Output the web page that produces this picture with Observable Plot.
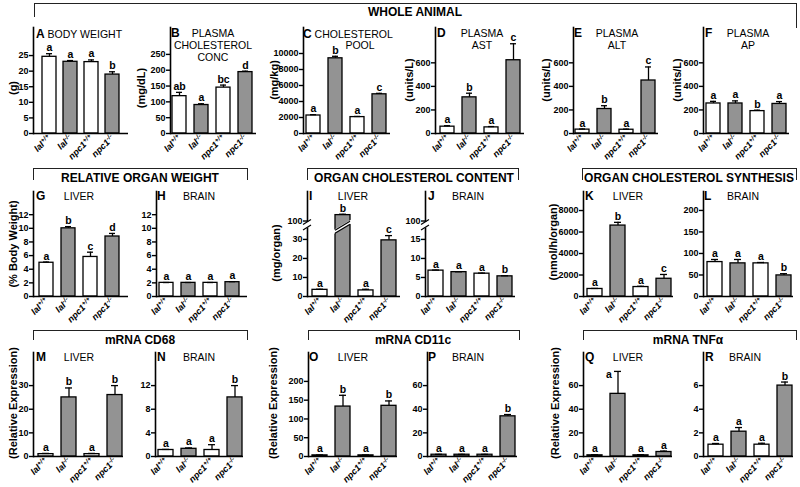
<!DOCTYPE html>
<html><head><meta charset="utf-8">
<script src="https://cdn.jsdelivr.net/npm/d3@7"></script>
<script src="https://cdn.jsdelivr.net/npm/@observablehq/plot@0.6"></script>
<style>
body{margin:0;background:#fff;}
#chart{position:relative;width:800px;height:487px;overflow:hidden;font-family:"Liberation Sans",Arial,sans-serif;background:#fff;color:#000;}
.t{position:absolute;white-space:nowrap;line-height:1;}
.brk{position:absolute;border:1.5px solid #222;border-bottom:none;box-sizing:border-box;}
.ylab{position:absolute;font-weight:bold;font-size:11px;line-height:1;white-space:nowrap;transform:translate(-50%,-50%) rotate(-90deg);}
</style></head>
<body><div id="chart"></div>
<script>
const genotypes = ["lal+/+", "lal-/-", "npc1+/+", "npc1-/-"];

// A–F whole animal
const bodyWeight = [24.6, 23.0, 22.9, 18.9];
const bodyWeightErr = [1.0, 0.4, 0.7, 0.9];
const bodyWeightSig = ["a", "a", "a", "b"];
const plasmaChol = [118, 90, 145, 194];
const plasmaCholErr = [12, 4, 8, 3];
const plasmaCholSig = ["ab", "a", "bc", "d"];
const cholPool = [2250, 9400, 2050, 4900];
const cholPoolErr = [100, 250, 80, 120];
const cholPoolSig = ["a", "b", "a", "c"];
const plasmaAST = [58, 307, 52, 622];
const plasmaASTErr = [8, 35, 7, 140];
const plasmaASTSig = ["a", "b", "a", "c"];
const plasmaALT = [33, 208, 32, 450];
const plasmaALTErr = [5, 28, 5, 115];
const plasmaALTSig = ["a", "b", "a", "c"];
const plasmaAP = [255, 255, 190, 251];
const plasmaAPErr = [18, 22, 8, 20];
const plasmaAPSig = ["a", "a", "b", "a"];

// G–L organs
const liverWeight = [4.95, 10.0, 5.8, 8.8];
const liverWeightErr = [0.1, 0.25, 0.7, 0.45];
const liverWeightSig = ["a", "b", "c", "d"];
const brainWeight = [2.0, 2.0, 2.0, 2.1];
const brainWeightErr = [0.05, 0.05, 0.05, 0.08];
const brainWeightSig = ["a", "a", "a", "a"];
const liverChol = [3.5, 120, 3.2, 29.5];
const liverCholErr = [0.3, 3, 0.6, 2.5];
const liverCholSig = ["a", "b", "a", "c"];
const brainChol = [6.8, 6.4, 6.0, 5.3];
const brainCholErr = [0.15, 0.1, 0.15, 0.15];
const brainCholSig = ["a", "a", "a", "b"];
const liverSynth = [700, 6600, 880, 1650];
const liverSynthErr = [50, 300, 70, 400];
const liverSynthSig = ["a", "b", "a", "c"];
const brainSynth = [80, 77, 77, 49];
const brainSynthErr = [6, 9, 2, 4];
const brainSynthSig = ["a", "a", "a", "b"];

// M–R mRNA
const cd68Liver = [1, 25, 1, 26];
const cd68LiverErr = [0.3, 4, 0.3, 4];
const cd68LiverSig = ["a", "b", "a", "b"];
const cd68Brain = [1.1, 1.3, 1.1, 10];
const cd68BrainErr = [0.1, 0.15, 0.9, 2];
const cd68BrainSig = ["a", "a", "a", "b"];
const cd11cLiver = [3, 133, 3, 135];
const cd11cLiverErr = [1, 30, 1, 13];
const cd11cLiverSig = ["a", "b", "a", "b"];
const cd11cBrain = [1.5, 1.5, 1.5, 34];
const cd11cBrainErr = [0.3, 0.3, 0.3, 1.5];
const cd11cBrainSig = ["a", "a", "a", "b"];
const tnfLiver = [1, 53, 1, 3.8];
const tnfLiverErr = [0.5, 19, 0.5, 0.8];
const tnfLiverSig = ["a", "a", "a", "a"];
const tnfBrain = [1.0, 2.1, 1.0, 6.0];
const tnfBrainErr = [0.1, 0.35, 0.12, 0.3];
const tnfBrainSig = ["a", "a", "a", "b"];

// tick labels
const ticksA = [0, 5, 10, 15, 20, 25];
const ticksB = [0, 50, 100, 150, 200, 250];
const ticksC = [0, 2000, 4000, 6000, 8000, 10000];
const ticksPlasma = [0, 200, 400, 600];
const ticksOrganW = [0, 2, 4, 6, 8, 10, 12];
const ticksI = [0, 10, 20, 30, 100];
const ticksJ = [0, 5, 10, 15, 100];
const ticksK = [0, 2000, 4000, 6000, 8000];
const ticksL = [0, 50, 100, 150, 200];
const ticksM = [0, 10, 20, 30];
const ticksN = [0, 4, 8, 12];
const ticksO = [0, 50, 100, 150, 200];
const ticksPQ = [0, 20, 40, 60];
const ticksR = [0, 2, 4, 6];

// layout
const rowTop = {top: 27, zero: 133}, rowMid = {top: 191, zero: 296}, rowBot = {top: 352, zero: 456};
const panels = [
  {v: bodyWeight, e: bodyWeightErr, s: bodyWeightSig, row: rowTop, ax: 33, b0: 40, b1: 120, xe: 128, ymax: 34, ticks: ticksA},
  {v: plasmaChol, e: plasmaCholErr, s: plasmaCholSig, row: rowTop, ax: 170, b0: 171, b1: 254, xe: 256, ymax: 335, ticks: ticksB},
  {v: cholPool, e: cholPoolErr, s: cholPoolSig, row: rowTop, ax: 303, b0: 305, b1: 388, xe: 390, ymax: 13250, ticks: ticksC},
  {v: plasmaAST, e: plasmaASTErr, s: plasmaASTSig, row: rowTop, ax: 435, b0: 439, b1: 522, xe: 524, ymax: 900, ticks: ticksPlasma},
  {v: plasmaALT, e: plasmaALTErr, s: plasmaALTSig, row: rowTop, ax: 573, b0: 574, b1: 656, xe: 658, ymax: 900, ticks: ticksPlasma},
  {v: plasmaAP, e: plasmaAPErr, s: plasmaAPSig, row: rowTop, ax: 703, b0: 705, b1: 787, xe: 789, ymax: 900, ticks: ticksPlasma},
  {v: liverWeight, e: liverWeightErr, s: liverWeightSig, row: rowMid, ax: 33, b0: 39, b1: 120, xe: 128, ymax: 15.4, ticks: ticksOrganW},
  {v: brainWeight, e: brainWeightErr, s: brainWeightSig, row: rowMid, ax: 156, b0: 158, b1: 241, xe: 247, ymax: 15.4, ticks: ticksOrganW},
  {v: liverChol, e: liverCholErr, s: liverCholSig, row: rowMid, ax: 307, b0: 310, b1: 397, xe: 400, brk: [36, 95, 200], ticks: ticksI},
  {v: brainChol, e: brainCholErr, s: brainCholSig, row: rowMid, ax: 425, b0: 427, b1: 513, xe: 515, brk: [18, 95, 200], ticks: ticksJ},
  {v: liverSynth, e: liverSynthErr, s: liverSynthSig, row: rowMid, ax: 583, b0: 586, b1: 671, xe: 673, ymax: 9770, ticks: ticksK},
  {v: brainSynth, e: brainSynthErr, s: brainSynthSig, row: rowMid, ax: 703, b0: 706, b1: 791, xe: 793, ymax: 244, ticks: ticksL},
  {v: cd68Liver, e: cd68LiverErr, s: cd68LiverSig, row: rowBot, ax: 33, b0: 37, b1: 122, xe: 123, ymax: 44, ticks: ticksM},
  {v: cd68Brain, e: cd68BrainErr, s: cd68BrainSig, row: rowBot, ax: 155, b0: 158, b1: 242, xe: 243, ymax: 17.6, ticks: ticksN},
  {v: cd11cLiver, e: cd11cLiverErr, s: cd11cLiverSig, row: rowBot, ax: 308, b0: 311, b1: 396, xe: 397, ymax: 277, ticks: ticksO},
  {v: cd11cBrain, e: cd11cBrainErr, s: cd11cBrainSig, row: rowBot, ax: 427, b0: 430, b1: 515, xe: 517, ymax: 88, ticks: ticksPQ},
  {v: tnfLiver, e: tnfLiverErr, s: tnfLiverSig, row: rowBot, ax: 583, b0: 586, b1: 671, xe: 672, ymax: 88, ticks: ticksPQ, sideSig: 1},
  {v: tnfBrain, e: tnfBrainErr, s: tnfBrainSig, row: rowBot, ax: 703, b0: 707, b1: 792, xe: 793, ymax: 8.8, ticks: ticksR}
];

const chart = document.getElementById("chart");
const gray = "#939393";
const FONT = "'Liberation Sans', Arial, sans-serif";

function drawPanel(p) {
  const ML = 34, MR = 3, MT = 8, MB = 44;
  const data = genotypes.map((g, i) => ({g, i, v: p.v[i], e: p.e[i], s: p.s[i]}));
  const svgLeft = p.ax - ML, svgTop = p.row.top - MT;
  const plotH = p.row.zero - p.row.top;
  const width = p.xe - p.ax + ML + MR;
  const height = MT + plotH + MB;
  const y = p.brk
    ? {type: "linear", domain: [0, p.brk[0], p.brk[1], p.brk[2]], range: [MT + plotH, MT + plotH - 68.5, MT + plotH - 74, MT]}
    : {domain: [0, p.ymax]};
  const top = d => d.v + d.e;
  const plot = Plot.plot({
    width, height, marginLeft: ML, marginRight: MR, marginTop: MT, marginBottom: MB,
    style: {fontFamily: FONT, fontSize: "9px", fontWeight: "bold", background: "transparent", overflow: "visible", color: "#000"},
    x: {type: "band", domain: genotypes, range: [p.b0 - svgLeft, p.b1 - svgLeft], paddingInner: 0.35, paddingOuter: 0, align: 0.5},
    y,
    marks: [
      Plot.barY(data, {x: "g", y: "v", fill: d => d.g.endsWith("+/+") ? "white" : gray, stroke: "black", strokeWidth: 1.3}),
      Plot.ruleX(data, {x: "g", y1: "v", y2: top, stroke: "black", strokeWidth: 1.3}),
      Plot.tickY(data, {x: "g", y: top, stroke: "black", strokeWidth: 1.3, insetLeft: 4, insetRight: 4}),
      Plot.text(data.filter(d => d.i !== p.sideSig), {x: "g", y: top, text: "s", dy: -2.5, lineAnchor: "bottom", fontSize: 10.5, fontWeight: "bold", fill: "black"}),
      Plot.text(data.filter(d => d.i === p.sideSig), {x: "g", y: top, text: "s", dx: -9, dy: 3, lineAnchor: "middle", fontSize: 10.5, fontWeight: "bold", fill: "black"}),
      Plot.ruleY([0], {stroke: "black", strokeWidth: 1.6}),
      Plot.frame({anchor: "left", stroke: "black", strokeWidth: 1.6}),
      Plot.axisY({ticks: p.ticks, tickFormat: d => String(d), tickSize: 4, tickPadding: 1, label: null, strokeWidth: 1.4}),
      Plot.axisX({tickSize: 0, tickRotate: -45, tickPadding: 3, label: null})
    ]
  });
  plot.style.position = "absolute";
  plot.style.left = svgLeft + "px";
  plot.style.top = svgTop + "px";
  plot.style.maxWidth = "none";
  // italic genotype labels with superscripts
  d3.select(plot).selectAll('g[aria-label="x-axis tick label"] text').each(function () {
    const t = this.textContent;
    const m = t.match(/^(lal|npc1)(.*)$/);
    if (!m) return;
    this.textContent = "";
    const sel = d3.select(this).attr("font-style", "italic");
    sel.append("tspan").text(m[1]);
    sel.append("tspan").attr("dy", "-3").attr("font-size", "6.5px").text(m[2]);
  });
  if (p.brk) {
    const ys = plot.scale("y"), xs = plot.scale("x");
    const yl = ys.apply(p.brk[0]), yh = ys.apply(p.brk[1]);
    const g = d3.select(plot).append("g");
    g.append("rect").attr("x", ML - 2).attr("y", yh).attr("width", 4).attr("height", yl - yh).attr("fill", "white");
    [yl, yh].forEach(yy => g.append("line").attr("x1", ML - 4).attr("x2", ML + 4)
      .attr("y1", yy + 2.5).attr("y2", yy - 2.5).attr("stroke", "black").attr("stroke-width", 1.2));
    data.forEach(d => {
      if (d.v <= p.brk[1]) return;
      const x0 = xs.apply(d.g), bw = xs.bandwidth, ym = (yl + yh) / 2 + 1;
      const xa = x0 - 1, xb = x0 + bw + 1;
      g.append("polygon").attr("points", `${xa},${ym + 8} ${xb},${ym - 2} ${xb},${ym - 6} ${xa},${ym + 4}`).attr("fill", "white");
      g.append("line").attr("x1", x0).attr("x2", x0 + bw).attr("y1", ym + 7.4).attr("y2", ym - 1.6).attr("stroke", "black").attr("stroke-width", 1.2);
      g.append("line").attr("x1", x0).attr("x2", x0 + bw).attr("y1", ym + 4.4).attr("y2", ym - 4.6).attr("stroke", "black").attr("stroke-width", 1.2);
    });
  }
  chart.appendChild(plot);
}
panels.forEach(drawPanel);

// text helpers
function text(str, x, baseline, size, opts = {}) {
  const d = document.createElement("div");
  d.className = "t";
  d.innerHTML = str;
  d.style.fontSize = size + "px";
  d.style.top = (baseline - 0.85 * size) + "px";
  d.style.left = x + "px";
  if (opts.bold) d.style.fontWeight = "bold";
  if (opts.center) d.style.transform = "translateX(-50%)";
  chart.appendChild(d);
}
function ylab(str, cx, cy) {
  const d = document.createElement("div");
  d.className = "ylab";
  d.textContent = str;
  d.style.left = cx + "px";
  d.style.top = cy + "px";
  chart.appendChild(d);
}
function bracket(x0, x1, top, h, hRight) {
  const d = document.createElement("div");
  d.className = "brk";
  Object.assign(d.style, {left: x0 + "px", top: top + "px", width: (x1 - x0) + "px", height: h + "px"});
  chart.appendChild(d);
  if (hRight) {
    const e = document.createElement("div");
    Object.assign(e.style, {position: "absolute", left: (x1 - 1.5) + "px", top: (top + h) + "px", width: "1.5px", height: (hRight - h) + "px", background: "#222"});
    chart.appendChild(e);
  }
}

// group brackets and titles
const G = 12;
bracket(34, 797, 3, 14, 25);
text("WHOLE ANIMAL", 415, 16, G, {bold: true, center: true});
bracket(33, 248, 168, 12);
text("RELATIVE ORGAN WEIGHT", 140, 182, G, {bold: true, center: true});
bracket(307, 519, 168, 12);
text("ORGAN CHOLESTEROL CONTENT", 414, 182, G, {bold: true, center: true});
bracket(582, 797, 168, 12);
text("ORGAN CHOLESTEROL SYNTHESIS", 689, 182, G, {bold: true, center: true});
bracket(33, 248, 330, 10);
text("mRNA CD68", 140, 344, G, {bold: true, center: true});
bracket(308, 520, 330, 10);
text("mRNA CD11c", 413, 344, G, {bold: true, center: true});
bracket(583, 797, 330, 10);
text("mRNA TNFα", 688, 344, G, {bold: true, center: true});

// panel titles
const L = 12, S = 10.5;
text("<b style='font-size:12px'>A</b> BODY WEIGHT", 36, 37, S);
text("B", 171, 37, L, {bold: true});
text("PLASMA", 213, 37, S, {center: true});
text("CHOLESTEROL", 213, 49, S, {center: true});
text("CONC", 213, 61, S, {center: true});
text("<b style='font-size:12px'>C</b> CHOLESTEROL", 303, 37, S);
text("POOL", 360, 49, S, {center: true});
text("D", 437, 37, L, {bold: true});
text("PLASMA", 482, 37, S, {center: true});
text("AST", 482, 49, S, {center: true});
text("E", 574, 37, L, {bold: true});
text("PLASMA", 617, 37, S, {center: true});
text("ALT", 617, 49, S, {center: true});
text("F", 705, 37, L, {bold: true});
text("PLASMA", 748, 37, S, {center: true});
text("AP", 748, 49, S, {center: true});

const sub = [["G", 36, 79, "LIVER"], ["H", 157, 199, "BRAIN"], ["I", 309, 353, "LIVER"], ["J", 428, 468, "BRAIN"], ["K", 585, 628, "LIVER"], ["L", 704, 743, "BRAIN"]];
sub.forEach(([l, x, c, n]) => { text(l, x, 200, L, {bold: true}); text(n, c, 200, S, {center: true}); });
const sub2 = [["M", 36, 79, "LIVER"], ["N", 157, 199, "BRAIN"], ["O", 309, 353, "LIVER"], ["P", 428, 468, "BRAIN"], ["Q", 585, 628, "LIVER"], ["R", 705, 745, "BRAIN"]];
sub2.forEach(([l, x, c, n]) => { text(l, x, 361, L, {bold: true}); text(n, c, 361, S, {center: true}); });

// y-axis labels
ylab("(g)", 13, 88);
ylab("(mg/dL)", 141, 88);
ylab("(mg/kg)", 274, 80);
ylab("(units/L)", 409, 80);
ylab("(units/L)", 546, 80);
ylab("(units/L)", 677, 80);
ylab("(% Body Weight)", 13, 244);
ylab("(mg/organ)", 276, 253);
ylab("(nmol/h/organ)", 553, 242);
ylab("(Relative Expression)", 13, 403);
ylab("(Relative Expression)", 273, 403);
ylab("(Relative Expression)", 555, 403);
</script>
</body></html>
